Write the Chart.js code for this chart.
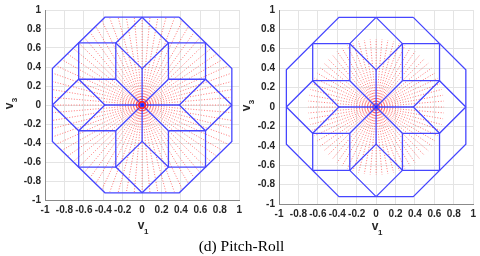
<!DOCTYPE html>
<html>
<head>
<meta charset="utf-8">
<script src="https://cdn.jsdelivr.net/npm/chart.js@4.4.1/dist/chart.umd.min.js"></script>
<style>
  body { margin: 0; width: 480px; height: 256px; background: #fff; position: relative; overflow: hidden; }
  canvas { position: absolute; }
  #cap { position: absolute; left: 0; width: 483px; top: 237px; text-align: center;
         font: 15.5px "Liberation Serif", "Times New Roman", serif; line-height: 18px; color: #000; }
</style>
</head>
<body>
<canvas id="left" width="246" height="238" style="left:0;top:0"></canvas>
<canvas id="right" width="240" height="240" style="left:240px;top:0"></canvas>
<div id="cap">(d) Pitch-Roll</div>
<script>
// axis ticks (both plots share them)
const tickValues = [-1, -0.8, -0.6, -0.4, -0.2, 0, 0.2, 0.4, 0.6, 0.8, 1];

// red rays: angles inside one 45 degree sector, repeated 8 times
const octantAngles = [0, 5, 10, 15, 20, 25, 30, 35, 40];
const leftReach  = [0.91, 0.92, 0.93, 0.95, 0.97, 0.97, 0.95, 0.93, 0.92];
const rightReach = [0.70, 0.70, 0.70, 0.70, 0.70, 0.70, 0.70, 0.70, 0.70];

// blue outline pieces
const octagon = [[0.383, 0.924], [0.924, 0.383], [0.924, -0.383], [0.383, -0.924],
  [-0.383, -0.924], [-0.924, -0.383], [-0.924, 0.383], [-0.383, 0.924], [0.383, 0.924]];
const squares = [
  [[0.271, 0.271], [0.653, 0.271], [0.653, 0.653], [0.271, 0.653], [0.271, 0.271]],
  [[-0.271, 0.271], [-0.653, 0.271], [-0.653, 0.653], [-0.271, 0.653], [-0.271, 0.271]],
  [[-0.271, -0.271], [-0.653, -0.271], [-0.653, -0.653], [-0.271, -0.653], [-0.271, -0.271]],
  [[0.271, -0.271], [0.653, -0.271], [0.653, -0.653], [0.271, -0.653], [0.271, -0.271]]
];
const diamonds = [
  [[0, 0.924], [0.271, 0.653], [0, 0.383], [-0.271, 0.653], [0, 0.924]],
  [[0, -0.924], [0.271, -0.653], [0, -0.383], [-0.271, -0.653], [0, -0.924]],
  [[0.924, 0], [0.653, 0.271], [0.383, 0], [0.653, -0.271], [0.924, 0]],
  [[-0.924, 0], [-0.653, 0.271], [-0.383, 0], [-0.653, -0.271], [-0.924, 0]]
];
const spokes = [
  [[0, -0.383], [0, 0.383]],
  [[-0.383, 0], [0.383, 0]],
  [[-0.271, -0.271], [0.271, 0.271]],
  [[-0.271, 0.271], [0.271, -0.271]]
];

const toPts = arr => arr.map(p => ({ x: p[0], y: p[1] }));

const blueSets = () => [octagon, ...squares, ...diamonds, ...spokes].map(poly => ({
  data: toPts(poly),
  showLine: true,
  borderColor: "rgb(70,70,255)",
  borderWidth: 1.3,
  pointRadius: 0,
}));

const raySets = (reach) => {
  const sets = [];
  for (let k = 0; k < 8; k++) {
    octantAngles.forEach((a, i) => {
      const t = (a + 45 * k) * Math.PI / 180;
      sets.push({
        data: [{ x: 0, y: 0 }, { x: reach[i] * Math.cos(t), y: reach[i] * Math.sin(t) }],
        showLine: true,
        borderColor: "rgba(255,30,30,0.6)",
        borderWidth: 1,
        borderDash: [1, 1.7],
        pointRadius: 0,
      });
    });
  }
  return sets;
};

// draws v_1 / v_3 with subscripts
const axisLabels = {
  id: "axisLabels",
  afterDraw(chart, args, o) {
    const { ctx, chartArea: ca } = chart;
    const cx = (ca.left + ca.right) / 2, cy = (ca.top + ca.bottom) / 2;
    ctx.save();
    ctx.fillStyle = "#262626";
    ctx.textAlign = "center";
    ctx.textBaseline = "middle";
    ctx.font = "bold 12px 'Liberation Sans', Arial";
    ctx.fillText("v", cx - 1, ca.bottom + o.xDy);
    ctx.font = "bold 8px 'Liberation Sans', Arial";
    ctx.fillText("1", cx + 4, ca.bottom + o.xDy + 6);
    ctx.translate(ca.left - o.yDx, cy);
    ctx.rotate(-Math.PI / 2);
    ctx.font = "bold 12px 'Liberation Sans', Arial";
    ctx.fillText("v", -1, 0);
    ctx.font = "bold 8px 'Liberation Sans', Arial";
    ctx.fillText("3", 5, 5);
    ctx.restore();
  }
};

const makeChart = (id, reach, center, lay) => {
  const scale = (fit) => ({
    type: "linear",
    min: -1,
    max: 1,
    afterBuildTicks: s => { s.ticks = tickValues.map(v => ({ value: v })); },
    afterFit: fit,
    grid: { color: "#e4e4e4", drawTicks: false },
    border: { color: "#8a8a8a" },
    ticks: {
      autoSkip: false,
      maxRotation: 0,
      padding: 4,
      color: "#262626",
      font: { family: "'Liberation Sans', Arial", size: 10, weight: "bold" },
      callback: v => String(Math.round(v * 10) / 10),
    },
  });
  new Chart(document.getElementById(id), {
    type: "scatter",
    data: { datasets: [...center, ...blueSets(), ...raySets(reach)] },
    options: {
      responsive: false,
      animation: false,
      layout: { padding: lay.pad },
      plugins: { legend: { display: false }, tooltip: { enabled: false }, axisLabels: lay.labels },
      scales: {
        x: scale(s => { s.height = lay.xh; }),
        y: scale(s => { s.width = lay.yw; }),
      },
    },
    plugins: [axisLabels],
  });
};

makeChart("left", leftReach, [
  { data: [{ x: 0, y: 0 }], pointRadius: 1.8, pointBackgroundColor: "#1a1aff", pointBorderWidth: 0 },
  { data: [{ x: 0, y: 0 }], pointRadius: 3.2, pointBackgroundColor: "rgba(0,0,0,0)", pointBorderColor: "#ff2020", pointBorderWidth: 1.4 },
  { data: [{ x: 0, y: 0 }], pointRadius: 5.5, pointBackgroundColor: "rgba(0,0,0,0)", pointBorderColor: "rgba(255,40,40,0.6)", pointBorderWidth: 1 },
], { pad: { top: 5, right: 6, left: 0, bottom: 0 }, xh: 38, yw: 45, labels: { xDy: 26, yDx: 35 } });

makeChart("right", rightReach, [
  { data: [{ x: 0, y: 0 }], pointRadius: 1.5, pointBackgroundColor: "#2020ff", pointBorderWidth: 0 },
], { pad: { top: 8, right: 5, left: 0, bottom: 0 }, xh: 36, yw: 39, labels: { xDy: 23, yDx: 32 } });
</script>
</body>
</html>
